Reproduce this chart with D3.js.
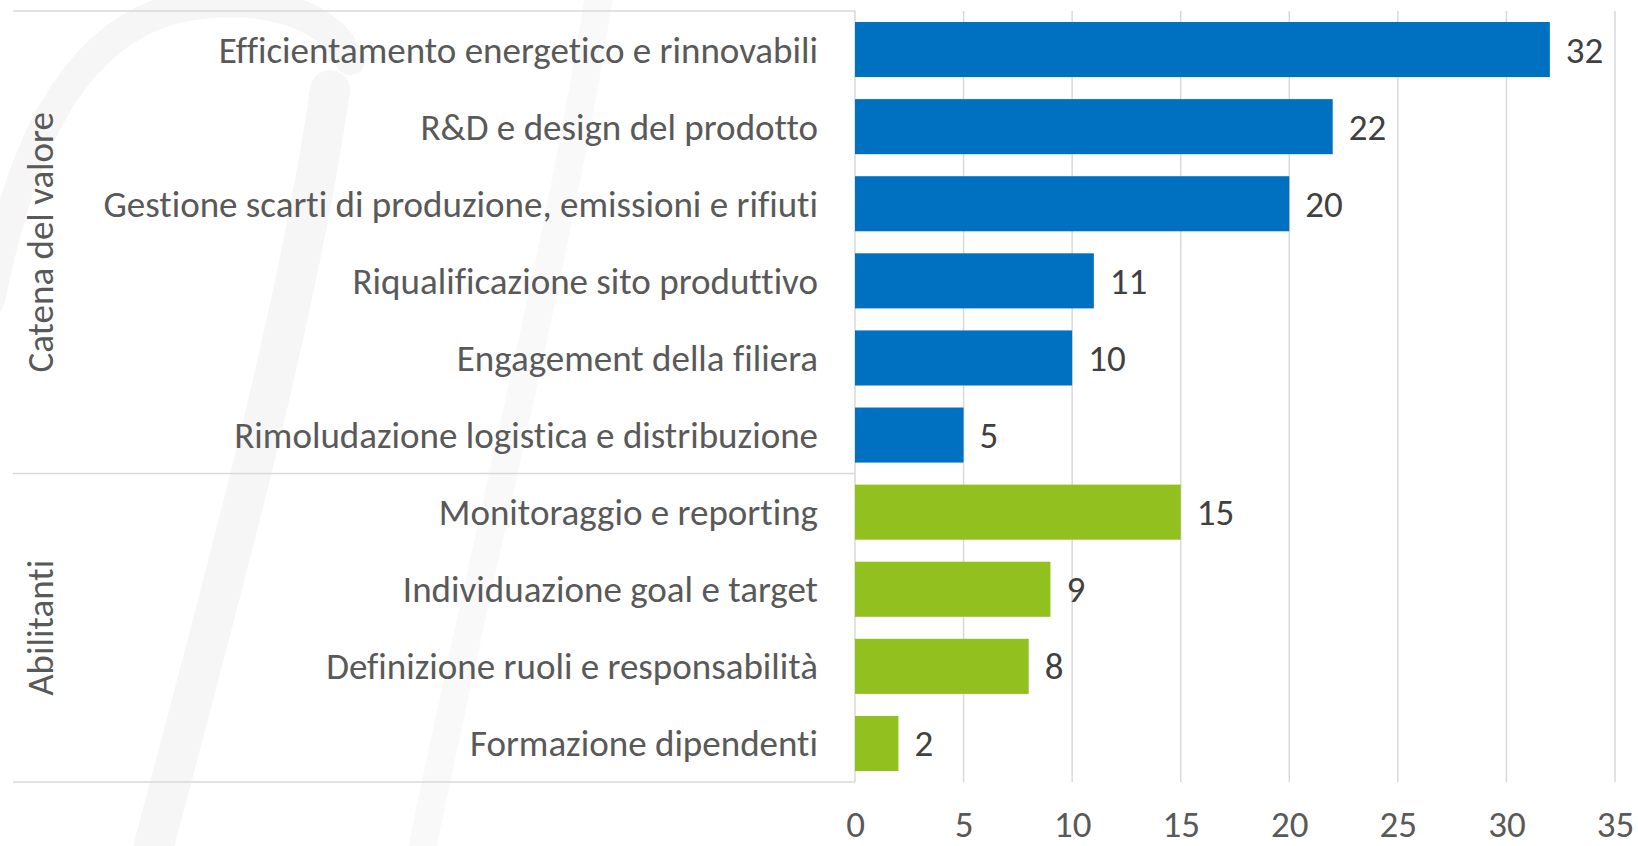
<!DOCTYPE html>
<html lang="it">

<head>
    <meta charset="utf-8">
    <title>Catena del valore / Abilitanti</title>
    <script src="https://cdn.jsdelivr.net/npm/d3@7/dist/d3.min.js"></script>
    <style>
        html, body {
            margin: 0;
            padding: 0;
            background: #ffffff;
        }

        svg text {
            font-family: Carlito, Calibri, Lato, "Open Sans", sans-serif;
            font-variant-ligatures: none;
        }
    </style>
</head>

<body>
    <div id="chart"></div>

    <script type="text/javascript">
        var categories = [
            "Efficientamento energetico e rinnovabili",
            "R&D e design del prodotto",
            "Gestione scarti di produzione, emissioni e rifiuti",
            "Riqualificazione sito produttivo",
            "Engagement della filiera",
            "Rimoludazione logistica e distribuzione",
            "Monitoraggio e reporting",
            "Individuazione goal e target",
            "Definizione ruoli e responsabilità",
            "Formazione dipendenti"
        ];
        var values = [32, 22, 20, 11, 10, 5, 15, 9, 8, 2];
        var groupOf = ["Catena del valore", "Catena del valore", "Catena del valore", "Catena del valore",
            "Catena del valore", "Catena del valore", "Abilitanti", "Abilitanti", "Abilitanti", "Abilitanti"];
        var groups = ["Catena del valore", "Abilitanti"];
        var groupColors = ["#0070C0", "#92C01F"];
        var xTicks = [0, 5, 10, 15, 20, 25, 30, 35];

        var width = 1638;
        var height = 846;
        var plotLeft = 855, plotRight = 1615, plotTop = 11, plotBottom = 782;
        var boxLeft = 13;
        var fontSize = 37;

        var svg = d3.select('#chart')
            .append('svg')
            .attr('width', width)
            .attr('height', height);

        // faint watermark in the background
        var mark = svg.append('g')
            .attr('fill', 'none')
            .attr('stroke', '#f6f6f6')
            .attr('stroke-linecap', 'round');
        mark.append('path')
            .attr('stroke-width', 30)
            .attr('d', 'M-10,300 C20,150 70,40 170,10 C250,-10 330,10 350,60');
        mark.append('path')
            .attr('stroke-width', 40)
            .attr('d', 'M330,90 C300,300 230,560 150,860');
        mark.append('path')
            .attr('stroke-width', 28)
            .attr('stroke', '#f9f9f9')
            .attr('d', 'M600,-10 C560,250 480,560 420,860');

        var x = d3.scaleLinear()
            .domain([0, 35])
            .range([plotLeft, plotRight]);

        var y = d3.scaleBand()
            .domain(categories)
            .range([plotTop, plotBottom])
            .paddingInner(0.4 / 1.4)
            .paddingOuter(0.2 / 1.4);

        var color = d3.scaleOrdinal()
            .domain(groups)
            .range(groupColors);

        // vertical gridlines
        svg.append('g')
            .selectAll('line')
            .data(xTicks.slice(1))
            .enter()
            .append('line')
            .attr('x1', d => x(d))
            .attr('x2', d => x(d))
            .attr('y1', plotTop)
            .attr('y2', plotBottom)
            .attr('stroke', '#d9d9d9')
            .attr('stroke-width', 1.5);

        // group boxes on the category axis
        var step = y.step();
        var groupRows = groups.map(g => {
            var idx = categories.filter((c, i) => groupOf[i] === g).map(c => categories.indexOf(c));
            return { name: g, first: d3.min(idx), last: d3.max(idx) };
        });
        var boundaries = [plotTop].concat(groupRows.map(g => plotTop + (g.last + 1) * step));

        svg.append('g')
            .selectAll('line')
            .data(boundaries)
            .enter()
            .append('line')
            .attr('x1', boxLeft)
            .attr('x2', plotLeft)
            .attr('y1', d => d)
            .attr('y2', d => d)
            .attr('stroke', '#d9d9d9')
            .attr('stroke-width', 1.5);

        svg.append('line')
            .attr('x1', plotLeft)
            .attr('x2', plotLeft)
            .attr('y1', plotTop)
            .attr('y2', plotBottom)
            .attr('stroke', '#d9d9d9')
            .attr('stroke-width', 1.5);

        // bars
        svg.append('g')
            .selectAll('rect')
            .data(categories)
            .enter()
            .append('rect')
            .attr('x', x(0))
            .attr('y', d => y(d))
            .attr('width', (d, i) => x(values[i]) - x(0))
            .attr('height', y.bandwidth())
            .attr('fill', (d, i) => color(groupOf[i]));

        // value labels
        svg.append('g')
            .selectAll('text')
            .data(categories)
            .enter()
            .append('text')
            .attr('x', (d, i) => x(values[i]) + 16)
            .attr('y', d => y(d) + y.bandwidth() / 2)
            .attr('dy', '0.35em')
            .style('font-size', fontSize + 'px')
            .style('fill', '#404040')
            .text((d, i) => values[i]);

        // category labels
        svg.append('g')
            .selectAll('text')
            .data(categories)
            .enter()
            .append('text')
            .attr('x', plotLeft - 37)
            .attr('y', d => y(d) + y.bandwidth() / 2)
            .attr('dy', '0.35em')
            .attr('text-anchor', 'end')
            .style('font-size', fontSize + 'px')
            .style('fill', '#595959')
            .text(d => d);

        // group labels, rotated
        svg.append('g')
            .selectAll('text')
            .data(groupRows)
            .enter()
            .append('text')
            .attr('transform', d => {
                var cy = plotTop + (d.first + d.last + 1) * step / 2;
                return 'translate(40,' + cy + ') rotate(-90)';
            })
            .attr('dy', '0.35em')
            .attr('text-anchor', 'middle')
            .style('font-size', fontSize + 'px')
            .style('fill', '#595959')
            .text(d => d.name);

        // x axis tick labels
        var xAxis = d3.axisBottom(x)
            .tickValues(xTicks)
            .tickSize(0)
            .tickPadding(0);

        var axisG = svg.append('g')
            .attr('transform', 'translate(0,' + 837 + ')')
            .call(xAxis);
        axisG.select('.domain').remove();
        axisG.selectAll('text')
            .attr('y', 0)
            .attr('dy', 0)
            .style('font-size', fontSize + 'px')
            .style('font-family', 'Carlito, Calibri, Lato, "Open Sans", sans-serif')
            .style('fill', '#595959');
    </script>
</body>

</html>
